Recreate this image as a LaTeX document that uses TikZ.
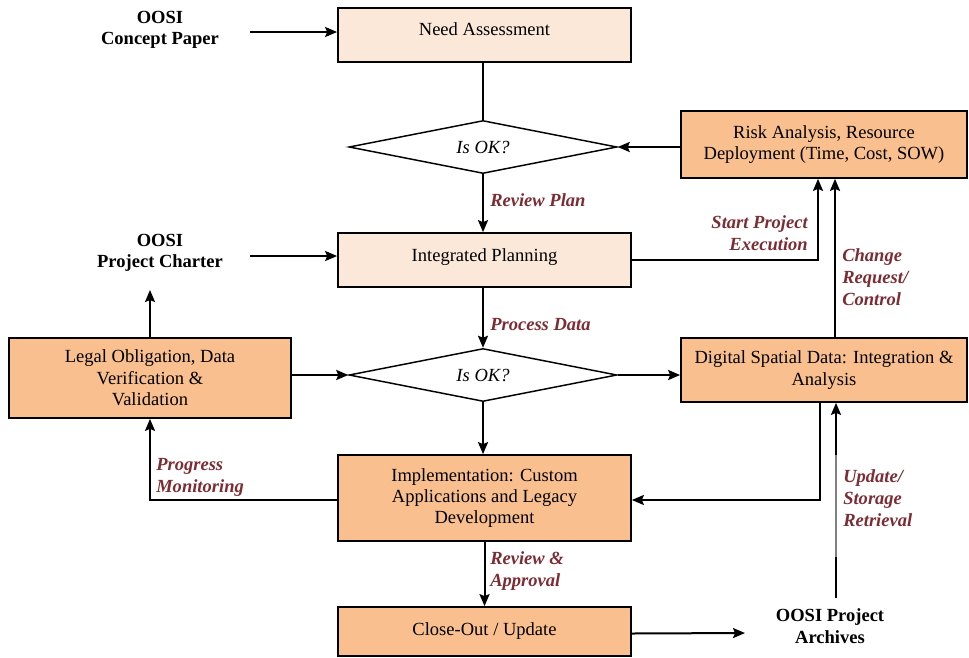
\documentclass[tikz,border=0pt]{standalone}
\usepackage{fontspec}
\setmainfont{Liberation Serif}
\newfontfamily\tnr{Liberation Serif}
\usetikzlibrary{shapes.geometric,arrows.meta,calc}
\definecolor{lightfill}{HTML}{FCE8D8}
\definecolor{orangefill}{HTML}{F9BF8F}
\definecolor{lblred}{HTML}{7B2D33}
\begin{document}
\begin{tikzpicture}[x=0.75pt,y=-0.75pt,
  every node/.style={font=\tnr\fontsize{13.9}{16}\selectfont},
  boxbase/.style={draw=black,line width=1.3pt,rectangle,align=center,inner sep=2pt},
  lightbox/.style={boxbase,fill=lightfill},
  orangebox/.style={boxbase,fill=orangefill},
  decision/.style={draw=black,line width=1.1pt,diamond,aspect=5,inner sep=0pt,
     minimum width=201pt,minimum height=39.75pt,font=\tnr\fontsize{13.9}{16}\selectfont\itshape},
  conn/.style={line width=1.5pt,-{Stealth[length=9pt,width=7.5pt,inset=1.5pt]}},
  plain/.style={line width=1.5pt},
  lbl/.style={font=\tnr\fontsize{13.9}{16.5}\selectfont\bfseries\itshape,text=lblred,inner sep=0pt},
  ext/.style={font=\tnr\fontsize{13.9}{16}\selectfont\bfseries,align=center,inner sep=0pt}]
\useasboundingbox (0,0) rectangle (969,657);

% nodes
\node[lightbox,minimum width=219.75pt,minimum height=40.5pt,text depth=9pt] (need) at (484.5,35) {Need Assessment};
\node[decision] (d1) at (483,147) {Is OK?};
\node[orangebox,minimum width=214.5pt,minimum height=50.25pt] (risk) at (824,144.5)
  {Risk Analysis, Resource\\Deployment (Time, Cost, SOW)};
\node[lightbox,minimum width=219.75pt,minimum height=40.5pt,text depth=8pt] (ip) at (484.5,260) {Integrated Planning};
\node[decision] (d2) at (483,375) {Is OK?};
\node[orangebox,minimum width=211.5pt,minimum height=60pt] (legal) at (150,378)
  {Legal Obligation, Data\\Verification \&\\Validation};
\node[orangebox,minimum width=214.5pt,minimum height=48pt] (dig) at (824,370)
  {Digital Spatial Data: Integration \&\\Analysis};
\node[orangebox,minimum width=219.75pt,minimum height=64.5pt] (impl) at (484.5,498)
  {Implementation: Custom\\Applications and Legacy\\Development};
\node[orangebox,minimum width=219.75pt,minimum height=36.75pt] (close) at (484.5,631.5) {Close-Out / Update};

\node[ext] (concept) at (160,30) {OOSI\\Concept Paper};
\node[ext] (charter) at (160,253) {OOSI\\Project Charter};
\node[ext] (arch) at (830,626) {OOSI Project\\Archives};

\coordinate (cstart) at (250,32);
\coordinate (chstart) at (250,256);
\coordinate (legup) at (150,290);
\coordinate (arcin) at (745,633);
\coordinate (arcout) at (836,598);

% connectors
\draw[conn] (cstart) -- (cstart -| need.west);
\draw[conn] (chstart) -- (chstart -| ip.west);
\draw[plain] (need.south -| d1.north) -- (d1.north);
\draw[conn] (d1.south) -- (d1.south |- ip.north);
\draw[conn] (risk.west |- d1.east) -- (d1.east);
\draw[conn] (ip.east) -| ([xshift=-4.5pt]risk.south);
\draw[conn] ([xshift=8.25pt]dig.north) -- ([xshift=8.25pt]risk.south);
\draw[conn] (ip.south -| d2.north) -- (d2.north);
\draw[conn] (legal.east |- d2.west) -- (d2.west);
\draw[conn] (d2.east) -- (dig.west |- d2.east);
\draw[conn] (legal.north) -- (legup);
\draw[conn] (d2.south) -- (d2.south |- impl.north);
\draw[conn] ([xshift=-3pt]dig.south) |- ([yshift=-1.5pt]impl.east);
\draw[conn] ([yshift=-1.5pt]impl.west) -| (legal.south);
\draw[conn] (impl.south) -- (close.north);
\draw[conn] ([yshift=-1.5pt]close.east) -- (arcin);
\draw[conn] (arcout) -- (arcout |- dig.south);
\draw[white,line width=2.5pt] (836,455) -- (836,557);
\draw[gray,line width=0.8pt] (836,455) -- (836,557);

% labels
\node[lbl,anchor=west] (lrp) at (490,200) {Review Plan};
\node[lbl,anchor=east,align=right] (lspe) at (808,233) {Start Project\\Execution};
\node[lbl,anchor=west,align=left] (lcrc) at (842,277) {Change\\Request/\\Control};
\node[lbl,anchor=west] (lpd) at (490,325) {Process Data};
\node[lbl,anchor=west,align=left] (lpm) at (156,477) {Progress\\Monitoring};
\node[lbl,anchor=west,align=left] (lusr) at (843,498) {Update/\\Storage\\Retrieval};
\node[lbl,anchor=west,align=left] (lra) at (490,571) {Review \&\\Approval};
\end{tikzpicture}
\end{document}
